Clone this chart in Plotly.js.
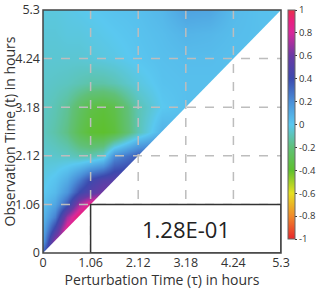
<!DOCTYPE html>
<html><head><meta charset="utf-8">
<script src="https://cdn.plot.ly/plotly-3.0.1.min.js"></script>
<style>html,body{margin:0;padding:0;background:#fff}</style>
</head><body><div id="chart" style="width:327px;height:298px"></div>
<script>
// Perturbation time τ (x) and observation time t (y), hours
const tauValues = [0, 0.265, 0.53, 0.795, 1.06, 1.325, 1.59, 2.12, 2.65, 3.18, 3.71, 4.24, 4.77, 5.3];
const tValues   = [0, 0.265, 0.53, 0.795, 1.06, 1.325, 1.59, 2.12, 2.65, 3.18, 3.71, 4.24, 4.77, 5.3];
// correlation values, rows = t, columns = τ (only t >= τ is shown; one extra cell past the diagonal)
const N = null;
const row_t000 = [0.35, 0.70, N, N, N, N, N, N, N, N, N, N, N, N];
const row_t027 = [0.15, 0.70, 0.80, N, N, N, N, N, N, N, N, N, N, N];
const row_t053 = [0.10, 0.45, 0.88, 0.90, N, N, N, N, N, N, N, N, N, N];
const row_t080 = [0.06, 0.25, 0.70, 0.95, 0.95, N, N, N, N, N, N, N, N, N];
const row_t106 = [0.03, 0.12, 0.35, 0.70, 0.90, 0.90, N, N, N, N, N, N, N, N];
const row_t133 = [0.00, 0.05, 0.18, 0.40, 0.52, 0.62, 0.65, N, N, N, N, N, N, N];
const row_t159 = [-0.02, 0.02, 0.10, 0.25, 0.42, 0.50, 0.52, 0.50, N, N, N, N, N, N];
const row_t212 = [-0.05, -0.06, -0.07, -0.10, -0.10, -0.05, 0.20, 0.35, 0.35, N, N, N, N, N];
const row_t265 = [-0.08, -0.12, -0.18, -0.30, -0.38, -0.40, -0.36, -0.10, 0.08, 0.06, N, N, N, N];
const row_t318 = [-0.07, -0.10, -0.15, -0.25, -0.33, -0.36, -0.32, -0.10, 0.00, 0.03, 0.03, N, N, N];
const row_t371 = [-0.06, -0.07, -0.08, -0.10, -0.12, -0.12, -0.10, -0.03, 0.02, 0.03, 0.03, 0.03, N, N];
const row_t424 = [-0.05, -0.05, -0.05, -0.05, -0.04, -0.03, -0.02, 0.01, 0.03, 0.04, 0.04, 0.03, 0.03, N];
const row_t477 = [-0.04, -0.04, -0.03, -0.03, -0.02, -0.01, 0.00, 0.02, 0.04, 0.07, 0.06, 0.04, 0.03, 0.03];
const row_t530 = [-0.03, -0.03, -0.02, -0.01, 0.00, 0.01, 0.02, 0.03, 0.06, 0.13, 0.12, 0.05, 0.03, 0.02];
const zRows = [row_t000, row_t027, row_t053, row_t080, row_t106, row_t133, row_t159,
               row_t212, row_t265, row_t318, row_t371, row_t424, row_t477, row_t530];

const tickVals = [0, 1.06, 2.12, 3.18, 4.24, 5.3];
const tickText = ['0', '1.06', '2.12', '3.18', '4.24', '5.3'];
const cbTickVals = [1, 0.8, 0.6, 0.4, 0.2, 0, -0.2, -0.4, -0.6, -0.8, -1];
const cbTickText = ['1', '0.8', '0.6', '0.4', '0.2', '0', '-0.2', '-0.4', '-0.6', '-0.8', '-1'];
const boxValueLabel = '1.28E-01';
const boxTau = 1.06, boxT = 1.06;

const axisMax = tickVals[tickVals.length - 1];
const FONT = '"Open Sans", sans-serif';

const colorscale = [
  [0.0, '#e8262b'], [0.1, '#f08a2a'], [0.2, '#e6e020'], [0.3, '#5ec02e'],
  [0.4, '#60c078'], [0.5, '#5ac8f0'], [0.6, '#4a8fd8'], [0.7, '#3c4aae'],
  [0.8, '#6a3aa4'], [0.9, '#d8289a'], [0.95, '#e82080'], [1.0, '#e8304a']
];

const trace = {
  type: 'heatmap', x: tauValues, y: tValues, z: zRows,
  zmin: -1, zmax: 1, zsmooth: 'best', colorscale: colorscale,
  hoverinfo: 'skip',
  colorbar: {
    x: 1.028, xanchor: 'left', xpad: 0, y: 1, yanchor: 'top', ypad: 0,
    len: 0.942, lenmode: 'fraction', thickness: 7, thicknessmode: 'pixels',
    outlinewidth: 1, outlinecolor: '#666',
    tickmode: 'array', tickvals: cbTickVals, ticktext: cbTickText,
    ticks: 'outside', ticklen: 2, tickcolor: '#333',
    tickfont: {family: FONT, size: 9.5, color: '#333'}
  }
};

const shapes = [];
// white mask below the diagonal (τ > t)
shapes.push({type: 'path', xref: 'x', yref: 'y', layer: 'above',
  path: `M 0,0 L ${axisMax},0 L ${axisMax},${axisMax} Z`,
  fillcolor: '#ffffff', line: {width: 0}});
// dashed grid drawn above the map
tickVals.slice(1, -1).forEach(v => {
  shapes.push({type: 'line', xref: 'x', yref: 'y', layer: 'above', x0: v, x1: v, y0: 0, y1: axisMax,
    line: {color: '#bdbdbd', width: 1.5, dash: 'dash'}});
  shapes.push({type: 'line', xref: 'x', yref: 'y', layer: 'above', x0: 0, x1: axisMax, y0: v, y1: v,
    line: {color: '#bdbdbd', width: 1.5, dash: 'dash'}});
});
// value box
shapes.push({type: 'rect', xref: 'x', yref: 'y', layer: 'above', x0: boxTau, x1: axisMax, y0: 0, y1: boxT,
  fillcolor: '#ffffff', line: {color: '#333', width: 1.5}});
// plot frame
shapes.push({type: 'rect', xref: 'paper', yref: 'paper', layer: 'above', x0: 0, x1: 1, y0: 0, y1: 1,
  fillcolor: 'rgba(0,0,0,0)', line: {color: '#444', width: 1.5}});

const axisCommon = {
  range: [0, axisMax], tickmode: 'array', tickvals: tickVals, ticktext: tickText,
  showgrid: false, zeroline: false, ticks: '', showline: false,
  ticklabeloverflow: 'allow',
  tickfont: {family: FONT, size: 12.5, color: '#333'}, fixedrange: true
};

const layout = {
  width: 327, height: 298,
  margin: {l: 43, r: 31, t: 10, b: 45},
  paper_bgcolor: '#fff', plot_bgcolor: '#fff',
  font: {family: FONT, color: '#333'},
  xaxis: Object.assign({}, axisCommon, {
    title: {text: 'Perturbation Time (τ) in hours', font: {family: FONT, size: 14, color: '#333'}, standoff: 4}
  }),
  yaxis: Object.assign({}, axisCommon, {
    ticklabelstandoff: 2,
    title: {text: 'Observation Time (t) in hours', font: {family: FONT, size: 14, color: '#333'}, standoff: 0}
  }),
  shapes: shapes,
  annotations: [{
    xref: 'x', yref: 'y', x: (boxTau + axisMax) / 2, y: boxT / 2, text: boxValueLabel,
    showarrow: false, font: {family: FONT, size: 22, color: '#222'}
  }],
  showlegend: false
};

Plotly.newPlot('chart', [trace], layout, {staticPlot: true, displayModeBar: false});
</script></body></html>
